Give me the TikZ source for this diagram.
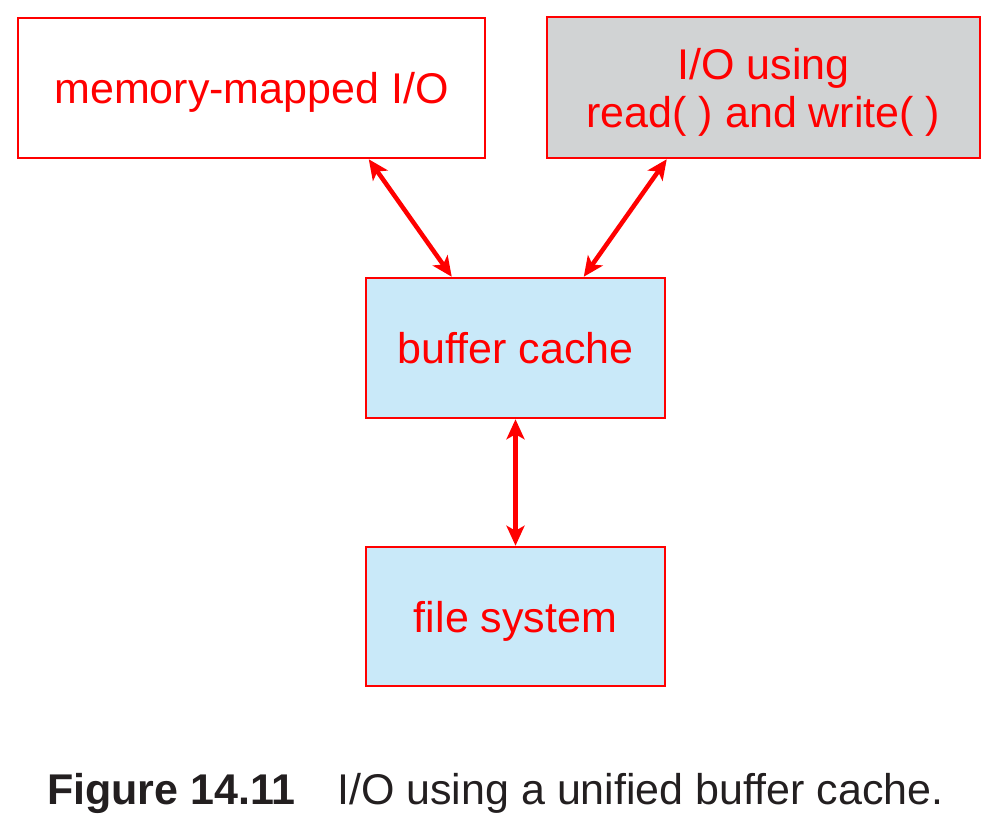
\documentclass[tikz,border=0pt]{standalone}
\usepackage{fontspec}
\setmainfont{Liberation Sans}
\usetikzlibrary{arrows.meta,calc}
\definecolor{boxred}{HTML}{FF0000}
\definecolor{boxgray}{HTML}{D1D3D4}
\definecolor{boxblue}{HTML}{C9E9F9}
\definecolor{captxt}{HTML}{231F20}
\begin{document}
\begin{tikzpicture}[x=1pt,y=1pt,
  box/.style={draw=boxred, line width=2.5pt, text=boxred, minimum width=#1, align=center,
    font=\fontsize{43}{48}\selectfont, inner sep=0pt, text depth=0pt},
  box/.default=300pt,
  link/.style={draw=boxred, line width=4.5pt, {Stealth[length=20pt,width=18pt,inset=5pt]}-{Stealth[length=20pt,width=18pt,inset=5pt]}},
  captext/.style={anchor=base west, inner sep=0pt, text=captxt, font=\fontsize{43}{48}\selectfont}]
\useasboundingbox (0,0) rectangle (997,-830);
\node[box=467pt, minimum height=140pt, fill=white] (mm) at (251.5,-88) {memory-mapped I/O};
\node[box=433pt, minimum height=141pt, fill=boxgray] (gi) at (763.5,-87.5) {I/O using\\read( ) and write( )};
\node[box=299pt, minimum height=140pt, fill=boxblue] (bc) at (515.5,-348) {buffer cache};
\node[box=299pt, minimum height=139pt, fill=boxblue] (fs) at (515.5,-616.5) {file system};
\coordinate (a1) at ($(mm.south west)+(352,0)$);
\coordinate (a2) at ($(bc.north west)+(87,0)$);
\coordinate (b1) at ($(gi.south west)+(121,0)$);
\coordinate (b2) at ($(bc.north west)+(219,0)$);
\draw[link] (a1) -- (a2);
\draw[link] (b1) -- (b2);
\draw[link] (bc.south) -- (fs.north);
\node[captext] (fig) at (47,-804) {\textbf{Figure 14.11}};
\node[captext] (ttl) at (337,-804) {I/O using a unified buffer cache.};
\end{tikzpicture}
\end{document}
